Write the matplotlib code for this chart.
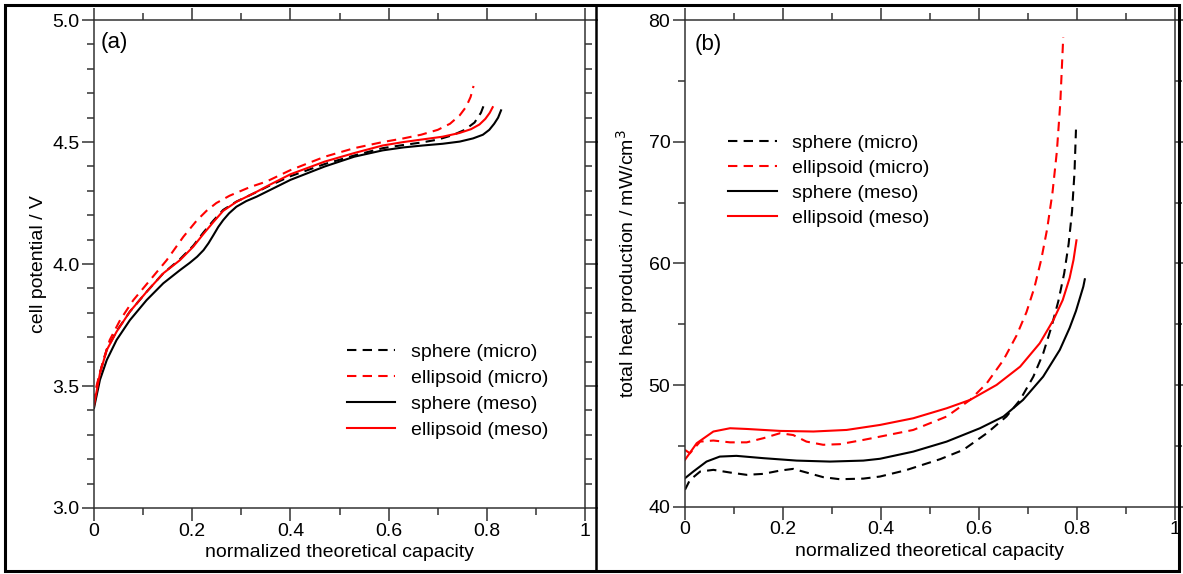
import numpy as np
import matplotlib
matplotlib.use("Agg")
import matplotlib.pyplot as plt
from matplotlib.patches import Rectangle
from matplotlib.lines import Line2D
from matplotlib.ticker import MultipleLocator, FuncFormatter

plt.rcParams['font.family'] = ['Liberation Sans', 'DejaVu Sans']

labels = ["sphere (micro)", "ellipsoid (micro)", "sphere (meso)", "ellipsoid (meso)"]

# (a) cell potential vs normalized capacity
a_sph_micro_x = [0, 0.005, 0.012, 0.026, 0.046, 0.073, 0.107, 0.141, 0.175, 0.202, 0.223, 0.243,
                 0.263, 0.29, 0.331, 0.358, 0.40, 0.47, 0.53, 0.588, 0.63, 0.666, 0.70, 0.73,
                 0.755, 0.775, 0.788, 0.797]
a_sph_micro_y = [3.43, 3.49, 3.555, 3.65, 3.725, 3.805, 3.886, 3.962, 4.02, 4.075, 4.13, 4.178,
                 4.222, 4.256, 4.295, 4.322, 4.36, 4.41, 4.445, 4.475, 4.488, 4.498, 4.51, 4.528,
                 4.55, 4.58, 4.62, 4.667]
a_ell_micro_x = [0, 0.005, 0.019, 0.032, 0.053, 0.08, 0.114, 0.148, 0.182, 0.209, 0.229, 0.249,
                 0.276, 0.317, 0.351, 0.40, 0.47, 0.53, 0.588, 0.63, 0.666, 0.70, 0.725, 0.745,
                 0.758, 0.767, 0.773]
a_ell_micro_y = [3.43, 3.50, 3.607, 3.689, 3.77, 3.852, 3.934, 4.016, 4.112, 4.178, 4.218, 4.25,
                 4.28, 4.315, 4.338, 4.385, 4.44, 4.475, 4.50, 4.515, 4.53, 4.55, 4.575, 4.61,
                 4.645, 4.685, 4.73]
a_sph_meso_x = [0, 0.002, 0.012, 0.026, 0.046, 0.073, 0.107, 0.141, 0.175, 0.195, 0.21, 0.223,
                0.233, 0.243, 0.253, 0.263, 0.275, 0.29, 0.31, 0.331, 0.358, 0.40, 0.47, 0.53,
                0.588, 0.63, 0.67, 0.71, 0.745, 0.772, 0.792, 0.805, 0.815, 0.823, 0.829]
a_sph_meso_y = [3.41, 3.43, 3.525, 3.607, 3.689, 3.77, 3.852, 3.921, 3.975, 4.005, 4.03, 4.057,
                4.085, 4.118, 4.152, 4.18, 4.208, 4.235, 4.258, 4.276, 4.303, 4.345, 4.40, 4.44,
                4.466, 4.478, 4.486, 4.493, 4.502, 4.515, 4.53, 4.55, 4.575, 4.60, 4.63]
a_ell_meso_x = [0, 0.002, 0.012, 0.026, 0.046, 0.073, 0.107, 0.141, 0.175, 0.202, 0.223, 0.243,
                0.263, 0.29, 0.331, 0.358, 0.40, 0.47, 0.53, 0.588, 0.63, 0.666, 0.71, 0.744,
                0.768, 0.785, 0.797, 0.806, 0.812]
a_ell_meso_y = [3.42, 3.443, 3.552, 3.648, 3.723, 3.805, 3.886, 3.962, 4.016, 4.071, 4.124, 4.172,
                4.218, 4.255, 4.296, 4.325, 4.368, 4.42, 4.455, 4.486, 4.50, 4.51, 4.522, 4.537,
                4.553, 4.572, 4.595, 4.62, 4.643]

# (b) total heat production vs normalized capacity
b_sph_micro_x = [0, 0.01, 0.031, 0.058, 0.092, 0.126, 0.16, 0.194, 0.221, 0.248, 0.282, 0.316,
                 0.364, 0.398, 0.45, 0.521, 0.568, 0.616, 0.656, 0.684, 0.711, 0.731, 0.748,
                 0.762, 0.774, 0.783, 0.79, 0.795, 0.798]
b_sph_micro_y = [41.4, 42.2, 42.9, 43.04, 42.82, 42.63, 42.71, 42.98, 43.12, 42.82, 42.44, 42.27,
                 42.32, 42.49, 43.0, 43.92, 44.68, 46.05, 47.42, 48.79, 50.7, 52.6, 54.8,
                 56.9, 59.2, 61.6, 64.3, 67.5, 71.0]
b_ell_micro_x = [0, 0.01, 0.031, 0.058, 0.092, 0.126, 0.16, 0.194, 0.221, 0.248, 0.282, 0.316,
                 0.364, 0.398, 0.466, 0.534, 0.582, 0.616, 0.65, 0.677, 0.697, 0.713, 0.727,
                 0.739, 0.75, 0.759, 0.766, 0.772]
b_ell_micro_y = [44.68, 44.4, 45.36, 45.45, 45.3, 45.3, 45.64, 46.05, 45.9, 45.36, 45.1, 45.15,
                 45.5, 45.77, 46.32, 47.42, 48.79, 50.16, 52.07, 54.1, 56.0, 58.0, 60.3,
                 62.8, 65.8, 69.2, 73.2, 78.6]
b_sph_meso_x = [0, 0.017, 0.044, 0.071, 0.105, 0.16, 0.228, 0.296, 0.364, 0.398, 0.466, 0.534,
                0.602, 0.65, 0.69, 0.731, 0.765, 0.785, 0.798, 0.807, 0.813, 0.816]
b_sph_meso_y = [42.35, 42.9, 43.72, 44.13, 44.19, 44.0, 43.8, 43.72, 43.8, 43.95, 44.54, 45.36,
                46.46, 47.42, 48.79, 50.7, 52.9, 54.7, 56.1, 57.3, 58.1, 58.7]
b_ell_meso_x = [0, 0.024, 0.058, 0.092, 0.126, 0.194, 0.262, 0.33, 0.398, 0.466, 0.534, 0.582,
                0.636, 0.684, 0.724, 0.752, 0.771, 0.785, 0.793, 0.799]
b_ell_meso_y = [43.86, 45.23, 46.19, 46.46, 46.4, 46.24, 46.19, 46.32, 46.73, 47.28, 48.1, 48.79,
                50.02, 51.52, 53.44, 55.36, 57.0, 58.8, 60.3, 61.9]

fig = plt.figure(figsize=(11.83, 5.74), dpi=100)
ax1 = fig.add_axes([0.0795, 0.115, 0.415, 0.85])
ax2 = fig.add_axes([0.579, 0.117, 0.4142, 0.848])

styles = [dict(color='black', ls=(0, (4.5, 3))), dict(color='red', ls=(0, (4.5, 3))),
          dict(color='black', ls='-'), dict(color='red', ls='-')]

a_series = [(a_sph_micro_x, a_sph_micro_y), (a_ell_micro_x, a_ell_micro_y),
            (a_sph_meso_x, a_sph_meso_y), (a_ell_meso_x, a_ell_meso_y)]
b_series = [(b_sph_micro_x, b_sph_micro_y), (b_ell_micro_x, b_ell_micro_y),
            (b_sph_meso_x, b_sph_meso_y), (b_ell_meso_x, b_ell_meso_y)]

for (x, y), st, lab in zip(a_series, styles, labels):
    ax1.plot(x, y, lw=1.5, label=lab, **st)
for (x, y), st, lab in zip(b_series, styles, labels):
    ax2.plot(x, y, lw=1.5, label=lab, **st)

def xfmt(v, pos):
    if abs(v) < 1e-9:
        return '0'
    if abs(v - 1) < 1e-9:
        return '1'
    return f'{v:.1f}'

for ax in (ax1, ax2):
    ax.set_xlim(0, 1)
    ax.xaxis.set_major_locator(MultipleLocator(0.2))
    ax.xaxis.set_minor_locator(MultipleLocator(0.1))
    ax.xaxis.set_major_formatter(FuncFormatter(xfmt))
    ax.tick_params(which='both', direction='out', top=True, right=True,
                   labeltop=False, labelright=False, width=1.1, color='#333333')
    ax.tick_params(which='major', length=9, labelsize=14, pad=1.5)
    ax.tick_params(which='minor', length=5)
    for s in ax.spines.values():
        s.set_linewidth(1.1)
        s.set_color('#333333')
    ax.set_xlabel('normalized theoretical capacity', fontsize=14, labelpad=3)

ax1.set_ylim(3.0, 5.0)
ax1.yaxis.set_major_locator(MultipleLocator(0.5))
ax1.yaxis.set_minor_locator(MultipleLocator(0.1))
ax1.yaxis.set_major_formatter(FuncFormatter(lambda v, p: f'{v:.1f}'))
ax1.set_ylabel('cell potential / V', fontsize=14, labelpad=4)
ax1.text(0.013, 0.955, '(a)', transform=ax1.transAxes, fontsize=16, va='center', ha='left')

ax2.set_ylim(40, 80)
ax2.yaxis.set_major_locator(MultipleLocator(10))
ax2.yaxis.set_minor_locator(MultipleLocator(5))
ax2.set_ylabel('total heat production / mW/cm$^3$', fontsize=14, labelpad=6)
ax2.text(0.02, 0.95, '(b)', transform=ax2.transAxes, fontsize=16, va='center', ha='left')

leg_kw = dict(frameon=False, fontsize=14, handlelength=2.5, handletextpad=0.8,
              borderaxespad=0, borderpad=0)
ax1.legend(loc='upper left', bbox_to_anchor=(0.515, 0.337), labelspacing=0.42, **leg_kw)
ax2.legend(loc='upper left', bbox_to_anchor=(0.088, 0.765), labelspacing=0.37, **leg_kw)

# outer frame and divider
fig.add_artist(Rectangle((5 / 1183, 3 / 574), 1174 / 1183, 566 / 574, transform=fig.transFigure,
                         fill=False, lw=2.2, ec='black'))
fig.add_artist(Line2D([596 / 1183, 596 / 1183], [3 / 574, 569 / 574], transform=fig.transFigure,
                      lw=1.8, color='black'))

fig.savefig('out.png', dpi=100)
